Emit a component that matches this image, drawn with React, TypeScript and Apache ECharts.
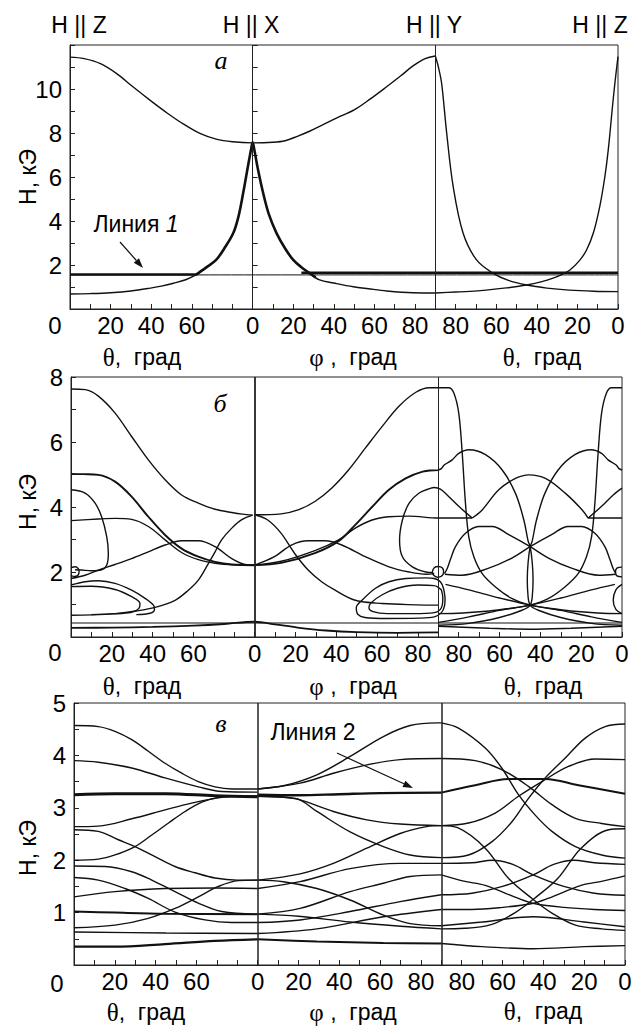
import React, { useEffect, useRef } from "react";
import * as echarts from "echarts";

// ---------- tick labels ----------
const xTickValues = [20, 40, 60, 90, 110, 130, 150, 170, 190, 210, 230, 250, 270];
const xTickTexts = ["20", "40", "60", "0", "20", "40", "60", "80", "80", "60", "40", "20", "0"];
const aYLabels = [2, 4, 6, 8, 10];
const bYLabels = [2, 4, 6, 8];
const vYLabels = [1, 2, 3, 4, 5];
const topLabels = ["H || Z", "H || X", "H || Y", "H || Z"];

// X: 0..90 = θ (H||Z → H||X), 90..180 = 90+φ, 180..270 = 270-θ (H||Y → H||Z)
// ---------- panel а ----------
const aUpper = [[0,11.45],[7,11.38],[15,11.15],[23,10.7],[31,10.1],[40,9.45],[48,8.9],[56,8.4],[64,7.98],[72,7.72],[80,7.6],[90,7.55],[100,7.58],[106,7.65],[112,7.85],[118,8.08],[124,8.35],[131,8.67],[140,9.05],[148,9.55],[156,10.1],[163,10.6],[169,11.05],[175,11.38],[180,11.5]];
const aFall = [[180,11.5],[181.5,11.0],[183.1,10.26],[185.6,7.99],[188.8,5.56],[193.7,3.44],[200.3,2.23],[208.5,1.62],[216,1.3],[225,1.09],[235,0.95],[246,0.86],[258,0.81],[270,0.79]];
const aRise = [[180,0.73],[190,0.77],[197,0.8],[205,0.86],[215,0.96],[225,1.09],[232,1.23],[238,1.4],[243,1.6],[246.3,1.77],[251,2.2],[254.5,2.68],[258,3.5],[261,4.65],[263.5,6.0],[265.2,7.23],[267.6,9.5],[269,10.7],[270,11.47]];
const aLowLeft = [[0,0.68],[10,0.7],[20,0.74],[30,0.82],[39,0.94],[45,1.04],[51,1.17],[57,1.33],[62,1.55],[66,1.8]];
const aPeak = [[62,1.55],[67,1.88],[72,2.23],[76,2.75],[80.4,3.44],[83,4.2],[85.3,5.26],[87.5,6.4],[89.3,7.3],[90,7.58],[90.7,7.3],[92.5,6.4],[95.2,5.26],[98,4.3],[101.8,3.44],[106,2.75],[110,2.23],[114,1.9],[118,1.63],[121,1.44]];
const aLowMid = [[118,1.63],[123,1.32],[130,1.18],[139.6,1.01],[147,0.92],[156,0.82],[169,0.74],[180,0.73]];
const aHThin = [[0,1.55],[270,1.55]];
const aHThick1 = [[0,1.57],[62,1.57]];
const aHThick2 = [[114,1.65],[270,1.65]];

// ---------- panel б ----------
const bLeftTop = [[0,7.63],[7,7.61],[13.4,7.41],[21.6,6.89],[29.7,6.17],[37.9,5.45],[46.1,4.84],[54.2,4.37],[62.4,4.12],[70.6,3.93],[78.8,3.83],[84,3.78],[89,3.75]];
const bLeftA = [[0,5.02],[6,5.01],[13.4,4.99],[21.6,4.78],[29.7,4.32],[37.9,3.7],[46.1,3.14],[54.2,2.72],[62.4,2.47],[70.6,2.31],[78.8,2.23],[90,2.21]];
const bLeftB = [[0,3.58],[13.4,3.63],[21.6,3.65],[29.7,3.62],[37.9,3.4],[46.1,2.99],[54.2,2.6],[62.4,2.38],[70.6,2.27],[80,2.22],[90,2.21]];
const bLeftLoop = [[0,4.53],[6.9,4.43],[11.8,4.12],[15,3.7],[17.5,3.09],[18.3,2.57],[17.5,2.21],[15,2.07],[10.1,2.04],[5.2,2.06],[2,2.07]];
const bLeftSmall = [[0,2.14],[2.2,2.16],[4,2.04],[3.4,1.9],[1.5,1.86],[0,1.9]];
const bLeftRise = [[0,1.8],[6.9,1.9],[13.4,2.06],[21.6,2.23],[29.7,2.41],[37.9,2.62],[46.1,2.83],[54.2,2.96],[62.4,2.96],[70.6,2.78],[78.8,2.41],[85.3,2.23],[90,2.21]];
const bLeftUp = [[0,0.67],[10,0.68],[21.6,0.72],[32,0.8],[41.2,0.91],[51,1.13],[57.5,1.44],[62.4,1.75],[67.3,2.26],[70.6,2.62],[73.8,2.99],[78.8,3.35],[83.7,3.61],[89,3.75]];
const bLeftOvalOut = [[0,1.6],[6.9,1.7],[13.4,1.73],[21.6,1.65],[29.7,1.44],[36.3,1.19],[40.4,0.98],[40.9,0.85],[38.7,0.73],[32,0.69]];
const bLeftOvalIn = [[0,1.55],[9.8,1.56],[21.6,1.46],[29.7,1.24],[33.8,1.03],[33.3,0.88],[29.7,0.76],[20,0.71],[10,0.69]];
const bHLine = [[0,0.43],[270,0.43]];
const bBump = [[0,0.28],[20,0.29],[40,0.31],[60,0.35],[75,0.4],[90,0.47],[100,0.39],[111,0.29],[125,0.2],[140,0.15],[160,0.13],[180,0.14]];
const bMidTop = [[90,3.76],[103,3.79],[111.3,3.91],[119.5,4.17],[127.7,4.58],[136,5.14],[144.2,5.81],[152.5,6.48],[160.7,7.1],[169,7.53],[175.6,7.67],[180,7.67]];
const bMidFall = [[90,3.76],[96.4,3.6],[103,3.19],[109.6,2.57],[116.2,2.06],[122.8,1.7],[129.4,1.44],[139.3,1.13],[152.5,1.03],[169,0.99],[180,0.98]];
const bMidHump = [[90,2.21],[99.7,2.47],[108,2.83],[116.2,2.96],[124.5,2.96],[132.7,2.83],[144.2,2.47],[155.8,2.16],[165.7,2.0],[174,1.93],[178,1.95]];
const bMidFlat = [[90,2.21],[103,2.33],[119.5,2.66],[131.1,2.99],[139.3,3.35],[147.5,3.6],[155.8,3.7],[165.7,3.72],[180,3.66],[190,3.66],[196.6,3.66]];
const bMidSteep = [[90,2.21],[103,2.28],[119.5,2.58],[131.1,2.95],[139.3,3.45],[147.5,4.0],[155.8,4.53],[164,4.88],[172.3,5.09],[180,5.14]];
const bMidLoop = [[196.6,3.66],[190,4.02],[184.3,4.37],[181,4.55],[178,4.6],[176.4,4.58],[170.6,4.43],[165.7,4.12],[162.4,3.6],[161,2.98],[162.4,2.47],[167.3,2.16],[173.9,2.0],[177.5,1.98]];
const bMidSmall = [[177,2.0],[178,2.13],[180,2.17],[182,2.12],[182.6,2.0],[181.5,1.87],[179.5,1.84],[177.7,1.9],[177,2.0]];
const bMidOvalOut = [[183.3,1.2],[182.5,1.5],[181,1.7],[178,1.8],[174,1.82],[164,1.8],[155.8,1.7],[149.2,1.5],[142.6,1.13],[139.8,0.9],[140.5,0.7],[144,0.6],[155,0.57],[170,0.58],[178,0.62],[181.5,0.75],[183,0.95],[183.3,1.2]];
const bMidOvalIn = [[181.5,1.45],[178,1.58],[170,1.6],[160,1.5],[152.5,1.3],[147,1.05],[146,0.9],[148,0.78],[155,0.72],[168,0.72],[178,0.75],[181.5,0.9],[182.2,1.2],[181.5,1.45]];
const bRTallL = [[180,7.67],[185.1,7.67],[187.6,7.51],[190,6.89],[191.7,5.66],[193.3,4.11],[194.9,3.09],[197.4,2.47],[201.5,1.95],[208,1.54],[216.2,1.18],[225,0.98],[235,0.88],[245,0.8],[258,0.74],[270,0.72]];
const bRTallR = [[270,7.67],[264.9,7.67],[262.4,7.51],[260,6.89],[258.3,5.66],[256.7,4.11],[255.1,3.09],[252.6,2.47],[248.5,1.95],[242,1.54],[233.8,1.18],[225,0.98],[215,0.88],[205,0.8],[192,0.74],[180,0.72]];
const bRHumpL = [[180,5.14],[181.5,5.18],[183,5.3],[186.8,5.45],[190,5.65],[195,5.76],[203.1,5.61],[211.3,5.14],[217.8,4.42],[221.9,3.6],[224,2.95],[225,2.78],[226,2.3],[226.4,1.8],[226.2,1.4],[225,0.98],[220,0.8],[210,0.6],[195,0.42],[180,0.36]];
const bRHumpR = [[270,5.14],[268.5,5.18],[267,5.3],[263.2,5.45],[260,5.65],[255,5.76],[246.9,5.61],[238.7,5.14],[232.2,4.42],[228.1,3.6],[226,2.95],[225,2.78],[224,2.3],[223.6,1.8],[223.8,1.4],[225,0.98],[230,0.8],[240,0.6],[255,0.42],[270,0.36]];
const bRArch = [[196.6,3.66],[201.5,3.91],[209.6,4.53],[217.8,4.88],[224.4,4.99],[232.5,4.88],[242.3,4.42],[250.5,3.91],[253.4,3.66]];
const bRFlat = [[253.4,3.66],[262,3.66],[270,3.66]];
const bRDrop = [[253.4,3.66],[260,4.02],[265.7,4.37],[270,4.58]];
const bRArcL = [[183,1.95],[184.3,2.1],[186,2.4],[188.4,2.78],[193.3,3.19],[199.8,3.4],[206.4,3.4],[214.5,3.15],[225,2.78],[234.2,2.42],[245.6,2.11],[258.6,1.9],[266.8,1.93]];
const bRArcR = [[267,1.95],[265.7,2.1],[264,2.4],[261.6,2.78],[256.7,3.19],[250.2,3.4],[243.6,3.4],[235.5,3.15],[225,2.78],[215.8,2.42],[204.4,2.11],[191.4,1.9],[183.2,1.93]];
const bRFanL = [[183.5,1.62],[195,1.45],[210,1.2],[225,0.98],[240,0.82],[255,0.62],[270,0.45]];
const bRFanR = [[266.5,1.62],[255,1.45],[240,1.2],[225,0.98],[210,0.82],[195,0.62],[180,0.45]];
const bRSmall = [[270,2.15],[267.5,2.12],[266.8,2.0],[267.5,1.88],[270,1.85]];
const bRBulge = [[270,1.62],[267,1.45],[265.7,1.13],[267,0.85],[270,0.72]];
const bRBotArc = [[180,0.33],[205,0.27],[225,0.24],[245,0.27],[270,0.33]];

// ---------- panel в ----------
const vL1 = [[0,4.57],[11.9,4.55],[20.1,4.46],[28.3,4.3],[36.4,4.08],[44.6,3.85],[52.8,3.66],[60.9,3.5],[69.1,3.4],[77.3,3.36],[90,3.36]];
const vL2 = [[0,3.9],[11.9,3.87],[28.3,3.76],[44.6,3.57],[60.9,3.4],[72.4,3.31],[90,3.3]];
const vL3 = [[0,3.25],[20,3.27],[45,3.27],[69,3.23],[90,3.21]];
const vL4 = [[0,2.64],[11.9,2.65],[28.3,2.79],[44.6,2.96],[57.6,3.09],[69.1,3.18],[77.3,3.22],[90,3.22]];
const vL5 = [[0,2.0],[11.9,2.02],[20.1,2.1],[29.9,2.26],[38.1,2.48],[46.3,2.71],[54.4,2.93],[62.6,3.11],[70.8,3.2],[80,3.22],[90,3.22]];
const vL6 = [[0,2.58],[11.9,2.55],[21.7,2.39],[29.9,2.26],[39.7,2.07],[49.5,1.88],[59.3,1.76],[69.1,1.66],[80,1.62],[90,1.62]];
const vL7 = [[0,1.89],[15.2,1.88],[28.3,1.78],[38.1,1.62],[49.5,1.4],[60.9,1.18],[72.4,1.02],[90,0.97]];
const vL8 = [[0,1.67],[11.9,1.62],[25,1.46],[36.4,1.27],[49.5,1.01],[64.2,0.86],[77.3,0.81],[90,0.81]];
const vL9 = [[0,1.3],[20.1,1.4],[44.6,1.46],[69.1,1.47],[90,1.46]];
const vL10 = [[0,1.02],[20,1.0],[45,0.98],[90,0.97]];
const vL11 = [[0,0.71],[20.1,0.76],[36.4,0.89],[49.5,1.08],[60.9,1.3],[70.8,1.5],[80.5,1.61],[90,1.62]];
const vL12 = [[0,0.63],[45,0.61],[90,0.6]];
const vL13 = [[0,0.35],[20,0.35],[44.6,0.4],[69,0.46],[90,0.49]];
const vM1 = [[90,3.36],[102.6,3.42],[119,3.63],[135.3,3.98],[151.6,4.36],[164.7,4.57],[177.8,4.62],[180,4.62]];
const vM2 = [[90,3.36],[110.8,3.47],[127.1,3.66],[143.5,3.82],[159.8,3.92],[180,3.94]];
const vM3 = [[90,3.25],[110,3.24],[130,3.26],[150,3.28],[180,3.29]];
const vM4 = [[90,3.22],[102.6,3.2],[110.8,3.15],[127.1,2.93],[143.5,2.77],[159.8,2.69],[180,2.66]];
const vM5 = [[90,3.22],[108.5,3.18],[119,2.93],[135.3,2.54],[151.6,2.26],[164.7,2.1],[180,2.05]];
const vM6 = [[90,1.62],[110.8,1.74],[127.1,1.94],[143.5,2.23],[159.8,2.51],[172.7,2.64],[180,2.66]];
const vM7 = [[90,1.46],[110.8,1.59],[135.3,1.84],[159.8,1.94],[180,1.94]];
const vM8 = [[90,1.62],[102.6,1.59],[119,1.46],[135.3,1.24],[151.6,0.95],[164.7,0.79],[180,0.75]];
const vM9 = [[90,0.97],[110.8,1.08],[135.3,1.4],[151.6,1.56],[164.7,1.69],[180,1.72]];
const vM10 = [[90,0.81],[110.8,0.86],[135.3,1.02],[159.8,1.21],[180,1.34]];
const vM11 = [[90,0.97],[110,0.93],[135.3,0.82],[160,0.74],[180,0.69]];
const vM12 = [[90,0.6],[119,0.69],[151.6,0.92],[180,1.06]];
const vM13 = [[90,0.49],[119,0.45],[151.6,0.42],[180,0.41]];
const vR1 = [[180,4.62],[188.4,4.52],[201.5,4.14],[209.6,3.76],[217.8,3.25],[226,2.86],[234.2,2.55],[245.7,2.26],[258.6,2.1],[270,2.04]];
const vR1m = [[180,2.05],[193.3,2.1],[204.7,2.35],[214.5,2.73],[222.7,3.18],[230.9,3.57],[240.7,3.95],[250.5,4.33],[260.3,4.55],[270,4.6]];
const vR2 = [[180,3.94],[196.6,3.9],[209.6,3.73],[222.7,3.41],[234.2,3.06],[245.7,2.8],[258.6,2.7],[270,2.64]];
const vR2m = [[180,2.66],[193.3,2.71],[206.4,2.9],[217.8,3.22],[229.3,3.5],[242.3,3.79],[255.4,3.93],[270,3.92]];
const vR3 = [[180,3.29],[196.6,3.43],[212.9,3.55],[230.9,3.55],[247.2,3.43],[270,3.27]];
const vR4 = [[180,2.66],[188,2.62],[201.5,2.23],[213,1.65],[224.4,1.27],[234.2,0.99],[245.7,0.76],[258.6,0.69],[270,0.66]];
const vR4m = [[180,0.69],[191.4,0.7],[204.3,0.77],[215.8,0.99],[225.6,1.27],[237,1.65],[248.5,2.23],[262,2.58],[270,2.6]];
const vR5 = [[180,1.94],[195,1.95],[205,2.0],[215,1.92],[225,1.72],[240,1.5],[255,1.37],[270,1.33]];
const vR5m = [[180,1.34],[195,1.37],[210,1.5],[225,1.72],[235,1.92],[245,2.0],[255,1.95],[270,1.92]];
const vR6 = [[180,1.72],[191,1.6],[201.5,1.52],[217.8,1.27],[226,1.17],[240,1.1],[255,1.06],[270,1.04]];
const vR6m = [[180,1.06],[195,1.06],[210,1.1],[224,1.17],[232.2,1.27],[248.5,1.52],[259,1.6],[270,1.7]];
const vR7 = [[180,0.75],[200,0.82],[225,0.92],[250,0.82],[270,0.73]];
const vR8 = [[180,0.41],[200,0.35],[225,0.31],[250,0.35],[270,0.37]];

// ---------- layout ----------
const FONT = '"Liberation Sans", Arial, Helvetica, sans-serif';
const SERIF = '"Liberation Serif", "Times New Roman", serif';
const INK = "#111";

const panels = [
  { left: 70, top: 45, width: 548, height: 264, yMax: 12, yStep: 1, yLabels: aYLabels, b1: 1, b2: 1 },
  { left: 71, top: 377, width: 551, height: 260, yMax: 8, yStep: 1, yLabels: bYLabels, b1: 1.8, b2: 1 },
  { left: 74, top: 703, width: 551, height: 262, yMax: 5, yStep: 0.5, yLabels: vYLabels, b1: 1.5, b2: 1.5 },
];

type L = { d: number[][]; p: number; w?: number };
const lines: L[] = [
  { d: aUpper, p: 0 }, { d: aFall, p: 0 }, { d: aRise, p: 0 }, { d: aLowLeft, p: 0 },
  { d: aPeak, p: 0, w: 2.6 }, { d: aLowMid, p: 0 }, { d: aHThin, p: 0, w: 1 },
  { d: aHThick1, p: 0, w: 2.4 }, { d: aHThick2, p: 0, w: 2.4 },

  { d: bLeftTop, p: 1 }, { d: bLeftA, p: 1, w: 1.9 }, { d: bLeftB, p: 1 }, { d: bLeftLoop, p: 1 },
  { d: bLeftSmall, p: 1 }, { d: bLeftRise, p: 1 }, { d: bLeftUp, p: 1 }, { d: bLeftOvalOut, p: 1 },
  { d: bLeftOvalIn, p: 1 }, { d: bHLine, p: 1, w: 1.1 }, { d: bBump, p: 1, w: 1.8 },
  { d: bMidTop, p: 1 }, { d: bMidFall, p: 1 }, { d: bMidHump, p: 1 }, { d: bMidFlat, p: 1 },
  { d: bMidSteep, p: 1, w: 1.9 }, { d: bMidLoop, p: 1 }, { d: bMidSmall, p: 1 },
  { d: bMidOvalOut, p: 1 }, { d: bMidOvalIn, p: 1 },
  { d: bRTallL, p: 1 }, { d: bRTallR, p: 1 }, { d: bRHumpL, p: 1 }, { d: bRHumpR, p: 1 },
  { d: bRArch, p: 1 }, { d: bRFlat, p: 1 }, { d: bRDrop, p: 1 }, { d: bRArcL, p: 1 },
  { d: bRArcR, p: 1 }, { d: bRFanL, p: 1 }, { d: bRFanR, p: 1 }, { d: bRSmall, p: 1 },
  { d: bRBulge, p: 1 }, { d: bRBotArc, p: 1 },

  { d: vL1, p: 2 }, { d: vL2, p: 2 }, { d: vL3, p: 2, w: 3 }, { d: vL4, p: 2 }, { d: vL5, p: 2 },
  { d: vL6, p: 2 }, { d: vL7, p: 2 }, { d: vL8, p: 2 }, { d: vL9, p: 2 }, { d: vL10, p: 2, w: 2 },
  { d: vL11, p: 2 }, { d: vL12, p: 2 }, { d: vL13, p: 2, w: 2.2 },
  { d: vM1, p: 2 }, { d: vM2, p: 2 }, { d: vM3, p: 2, w: 2.4 }, { d: vM4, p: 2 }, { d: vM5, p: 2 },
  { d: vM6, p: 2 }, { d: vM7, p: 2 }, { d: vM8, p: 2 }, { d: vM9, p: 2 }, { d: vM10, p: 2 },
  { d: vM11, p: 2 }, { d: vM12, p: 2 }, { d: vM13, p: 2, w: 2 },
  { d: vR1, p: 2 }, { d: vR1m, p: 2 }, { d: vR2, p: 2 }, { d: vR2m, p: 2 }, { d: vR3, p: 2, w: 2 },
  { d: vR4, p: 2 }, { d: vR4m, p: 2 }, { d: vR5, p: 2 }, { d: vR5m, p: 2 }, { d: vR6, p: 2 },
  { d: vR6m, p: 2 }, { d: vR7, p: 2 }, { d: vR8, p: 2 },
];

function txt(text: string, x: number, y: number, size = 23, extra: any = {}, rot = 0) {
  return {
    type: "text", x, y, rotation: rot, silent: true,
    style: { text, fill: "#000", fontSize: size, fontFamily: FONT, align: "center", verticalAlign: "middle", ...extra },
  };
}

function arrow(x1: number, y1: number, x2: number, y2: number) {
  const ang = Math.atan2(y2 - y1, x2 - x1);
  const len = 10, half = 3.5;
  const bx = x2 - len * Math.cos(ang), by = y2 - len * Math.sin(ang);
  const px = -Math.sin(ang) * half, py = Math.cos(ang) * half;
  return [
    { type: "line", silent: true, shape: { x1, y1, x2: bx, y2: by }, style: { stroke: INK, lineWidth: 1.2 } },
    { type: "polygon", silent: true, shape: { points: [[x2, y2], [bx + px, by + py], [bx - px, by - py]] }, style: { fill: INK } },
  ];
}

const thetaName = { text: "{t|θ},  град", rich: { t: { fontFamily: SERIF, fontSize: 25 } } };
const phiName = { text: "{t|φ} ,  град", rich: { t: { fontFamily: SERIF, fontSize: 25 } } };

export default function App() {
  const ref = useRef<HTMLDivElement>(null);
  useEffect(() => {
    if (!ref.current) return;
    const chart = echarts.init(ref.current, undefined, { renderer: "svg" });

    const grid = panels.map((p) => ({
      left: p.left, top: p.top, width: p.width, height: p.height,
      show: true, borderColor: "#222", borderWidth: 1, backgroundColor: "transparent",
    }));
    const xAxis = panels.map((p, i) => ({
      type: "value", gridIndex: i, min: 0, max: 270, interval: 10,
      axisLine: { show: true, lineStyle: { color: "#222", width: 1 } },
      axisTick: { show: true, inside: true, length: 5, lineStyle: { color: "#222" } },
      splitLine: { show: false },
      axisLabel: {
        color: "#000", fontSize: 24, fontFamily: FONT, margin: 4, showMinLabel: true, showMaxLabel: true,
        formatter: (v: number) => {
          const k = xTickValues.indexOf(Math.round(v));
          return k >= 0 ? xTickTexts[k] : "";
        },
      },
    }));
    const yAxis: any[] = panels.map((p, i) => ({
      type: "value", gridIndex: i, min: 0, max: p.yMax, interval: p.yStep,
      axisLine: { show: true, lineStyle: { color: "#222", width: 1 } },
      axisTick: { show: true, inside: true, length: 5, lineStyle: { color: "#222" } },
      splitLine: { show: false },
      axisLabel: {
        color: "#000", fontSize: 24, fontFamily: FONT, margin: 8, showMaxLabel: true,
        formatter: (v: number) => (p.yLabels.indexOf(v) >= 0 ? String(v) : ""),
      },
    }));
    // ticks on the θ/φ boundary of panel а
    yAxis.push({
      type: "value", gridIndex: 0, position: "left", offset: -(panels[0].width * 90) / 270,
      min: 0, max: panels[0].yMax, interval: 1,
      axisLine: { show: false }, splitLine: { show: false }, axisLabel: { show: false },
      axisTick: { show: true, inside: true, length: 5, lineStyle: { color: "#222" } },
    });

    const series: any[] = lines.map((l) => ({
      type: "line", xAxisIndex: l.p, yAxisIndex: l.p, data: l.d,
      showSymbol: false, symbol: "none", smooth: 0.35, silent: true,
      lineStyle: { color: INK, width: l.w ?? 1.4 },
    }));
    panels.forEach((p, i) => {
      series.push({
        type: "line", xAxisIndex: i, yAxisIndex: i, data: [[0, -10]], symbol: "none", silent: true,
        lineStyle: { width: 0 },
        markLine: {
          silent: true, symbol: ["none", "none"], label: { show: false },
          data: [
            { xAxis: 90, lineStyle: { color: "#222", type: "solid", width: p.b1 } },
            { xAxis: 180, lineStyle: { color: "#222", type: "solid", width: p.b2 } },
          ],
        },
      });
    });

    const graphic: any[] = [
      txt(topLabels[0], 79, 25), txt(topLabels[1], 251, 25), txt(topLabels[2], 434, 25), txt(topLabels[3], 600, 25),
      txt("а", 221, 60, 26, { fontFamily: SERIF, fontStyle: "italic" }),
      txt("б", 220, 403, 26, { fontFamily: SERIF, fontStyle: "italic" }),
      txt("в", 221, 723, 26, { fontFamily: SERIF, fontStyle: "italic" }),
      txt("", 136, 224, 23, { text: "{n|Линия }{i|1}", rich: { n: { fontSize: 23, fontFamily: FONT }, i: { fontSize: 23, fontFamily: FONT, fontStyle: "italic" } } }),
      ...arrow(120, 242, 143, 268),
      txt("Линия 2", 313, 732, 23),
      ...arrow(337, 753, 413, 788),
      txt("H, кЭ", 28, 177, 23, {}, Math.PI / 2),
      txt("H, кЭ", 28, 502, 23, {}, Math.PI / 2),
      txt("H, кЭ", 28, 848, 23, {}, Math.PI / 2),
      txt("", 142, 357, 23, thetaName), txt("", 353, 357, 23, phiName), txt("", 542, 357, 23, thetaName),
      txt("", 142, 686, 23, thetaName), txt("", 353, 686, 23, phiName), txt("", 543, 686, 23, thetaName),
      txt("", 146, 1012, 23, thetaName), txt("", 353, 1012, 23, phiName), txt("", 543, 1011, 23, thetaName),
      txt("0", 55, 325, 24), txt("0", 55, 652, 24), txt("0", 57, 983, 24),
    ];

    chart.setOption({ animation: false, backgroundColor: "#fff", grid, xAxis, yAxis, series, graphic });
    return () => chart.dispose();
  }, []);
  return <div ref={ref} style={{ position: "fixed", left: 0, top: 0, width: 641, height: 1027, background: "#fff" }} />;
}
